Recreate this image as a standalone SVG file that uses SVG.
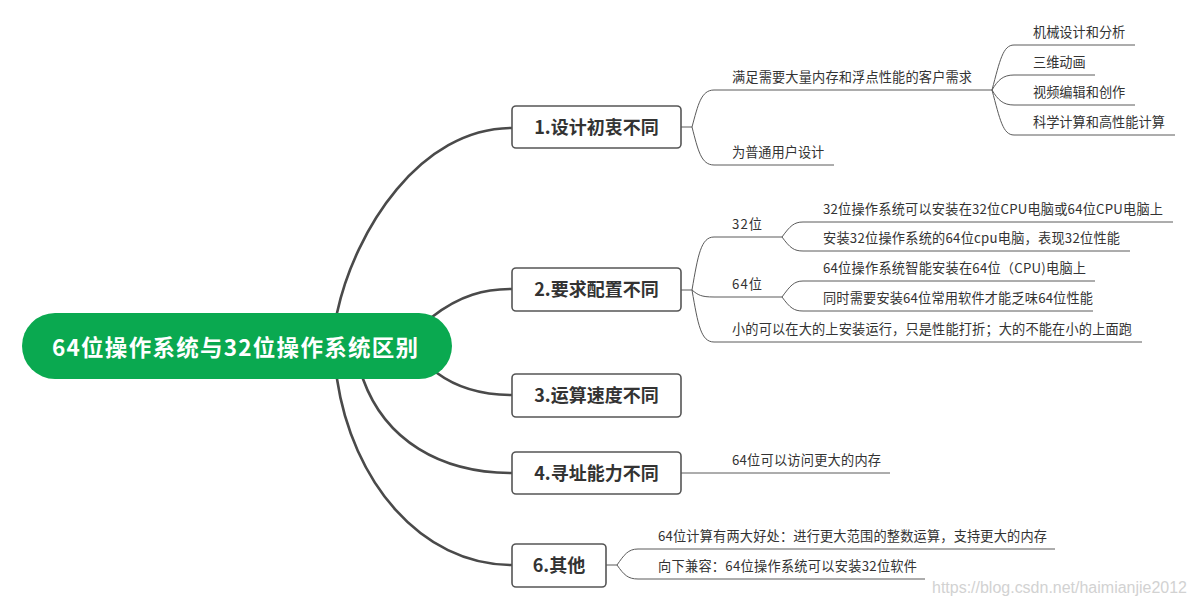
<svg xmlns="http://www.w3.org/2000/svg" width="1196" height="607" viewBox="0 0 1196 607">
<style>
.main{fill:none;stroke:#4a4a4a;stroke-width:2.6;stroke-linecap:round}
.sub{fill:none;stroke:#5a5a5a;stroke-width:1}
.box{fill:#fff;stroke:#555;stroke-width:1.6}
.bt{font-family:"Noto Sans CJK SC","Noto Sans",sans-serif;font-size:18px;font-weight:bold;fill:#333;text-anchor:middle}
.lt{font-family:"Noto Sans CJK SC","Noto Sans",sans-serif;font-size:13.2px;fill:#333}
.rt{font-family:"Noto Sans CJK SC","Noto Sans",sans-serif;font-size:22.5px;font-weight:bold;fill:#fff}
.wm{font-family:"Liberation Sans",Arial,sans-serif;font-size:16px;fill:#d2d2d2}
</style>
<rect width="1196" height="607" fill="#fff"/>
<g id="connectors">
<path class="main" d="M330,345 L337,313 C355,230 420,128 512,128"/>
<path class="main" d="M420,330 L432,317 C460,295 485,289 512,289"/>
<path class="main" d="M420,360 L437,373 C460,390 485,395 512,395"/>
<path class="main" d="M350,350 L363,379 C385,440 440,473 512,473"/>
<path class="main" d="M330,350 L337,379 C352,480 420,565 512,565"/>
<path class="sub" d="M681,127 H692 M692,127 C698,105 701,90 714,90 H992 M692,127 C698,150 701,165 714,165 H834"/>
<path class="sub" d="M992,90 C1000,60 1003,45 1014,45 H1135 M992,90 C998,80 1003,75 1014,75 H1095 M992,90 C998,100 1003,105 1014,105 H1135 M992,90 C1000,120 1003,135 1014,135 H1175"/>
<path class="sub" d="M681,290 H692 M692,290 C698,255 701,237 714,237 H782 M692,290 C698,295 701,297 714,297 H782 M692,290 C698,325 701,342 714,342 H1142"/>
<path class="sub" d="M782,237 C790,226 794,222 803,222 H1173 M782,237 C790,248 794,251 803,251 H1130"/>
<path class="sub" d="M782,297 C790,286 794,281 803,281 H1095 M782,297 C790,308 794,311 803,311 H1093"/>
<path class="sub" d="M681,473 H890"/>
<path class="sub" d="M606,565 H617 M617,565 C624,555 628,549 638,549 H1055 M617,565 C624,575 628,579 638,579 H925"/>
</g>
<g id="root">
<rect x="22" y="313" width="430" height="66" rx="33" fill="#0aa950"/>
<text class="rt" x="52" y="356" textLength="366" lengthAdjust="spacing">64位操作系统与32位操作系统区别</text>
</g>
<g id="b1">
<rect class="box" x="512" y="106" width="169" height="42" rx="4"/>
<text class="bt" x="596.5" y="133.5">1.设计初衷不同</text>
</g>
<g id="b2">
<rect class="box" x="512" y="268" width="169" height="43" rx="4"/>
<text class="bt" x="596.5" y="296">2.要求配置不同</text>
</g>
<g id="b3">
<rect class="box" x="512" y="374" width="169" height="43" rx="4"/>
<text class="bt" x="596.5" y="402">3.运算速度不同</text>
</g>
<g id="b4">
<rect class="box" x="512" y="452" width="169" height="42" rx="4"/>
<text class="bt" x="596.5" y="480">4.寻址能力不同</text>
</g>
<g id="b6">
<rect class="box" x="512" y="544" width="94" height="43" rx="4"/>
<text class="bt" x="559" y="572">6.其他</text>
</g>
<g id="leaves">
<text class="lt" x="732" y="82" textLength="240" lengthAdjust="spacing">满足需要大量内存和浮点性能的客户需求</text>
<text class="lt" x="732" y="157">为普通用户设计</text>
<text class="lt" x="1033" y="37">机械设计和分析</text>
<text class="lt" x="1033" y="67">三维动画</text>
<text class="lt" x="1033" y="97">视频编辑和创作</text>
<text class="lt" x="1033" y="127">科学计算和高性能计算</text>
<text class="lt" x="732" y="229" textLength="30" lengthAdjust="spacing">32位</text>
<text class="lt" x="732" y="289" textLength="30" lengthAdjust="spacing">64位</text>
<text class="lt" x="823" y="214" textLength="340" lengthAdjust="spacing">32位操作系统可以安装在32位CPU电脑或64位CPU电脑上</text>
<text class="lt" x="823" y="243" textLength="297" lengthAdjust="spacing">安装32位操作系统的64位cpu电脑，表现32位性能</text>
<text class="lt" x="823" y="273" textLength="263" lengthAdjust="spacing">64位操作系统智能安装在64位（CPU)电脑上</text>
<text class="lt" x="823" y="303" textLength="270" lengthAdjust="spacing">同时需要安装64位常用软件才能乏味64位性能</text>
<text class="lt" x="732" y="334" textLength="400" lengthAdjust="spacing">小的可以在大的上安装运行，只是性能打折；大的不能在小的上面跑</text>
<text class="lt" x="732" y="465" textLength="149" lengthAdjust="spacing">64位可以访问更大的内存</text>
<text class="lt" x="658" y="541" textLength="389" lengthAdjust="spacing">64位计算有两大好处：进行更大范围的整数运算，支持更大的内存</text>
<text class="lt" x="658" y="571" textLength="259" lengthAdjust="spacing">向下兼容：64位操作系统可以安装32位软件</text>
</g>
<text class="wm" x="932" y="593" textLength="255" lengthAdjust="spacingAndGlyphs">https://blog.csdn.net/haimianjie2012</text>
</svg>
